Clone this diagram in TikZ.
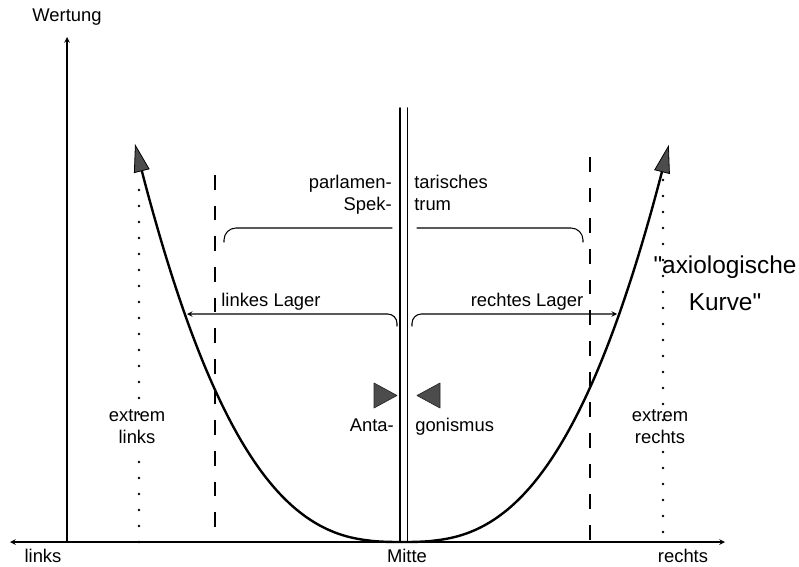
\documentclass[tikz,border=0pt]{standalone}
\usepackage{fontspec}
\setmainfont{Liberation Sans}
\usetikzlibrary{arrows.meta}
\begin{document}
\begin{tikzpicture}[x=0.75pt,y=-0.75pt,>=stealth,line join=round,line cap=round]
			\tikzset{txt/.style={font=\fontsize{13.8}{16.5}\selectfont,inner sep=0pt,text height=1.6ex,text depth=0.4ex},
				bigtxt/.style={font=\fontsize{18.3}{27.5}\selectfont,align=center,inner sep=0pt},
				strich/.style={line width=0.8pt,line cap=butt,dash pattern=on 11pt off 12pt},
				punkte/.style={line width=2pt,dash pattern=on 0pt off 12pt},
				keil/.style={fill=black!70,draw=black!85,line width=0.5pt},
				kurve/.style={line width=1.8pt,{Triangle[length=21pt,width=12pt,line width=0.6pt,fill=black!70]}-{Triangle[length=21pt,width=12pt,line width=0.6pt,fill=black!70]}}}
			%%Abmessungen in Pixeln
			\def \mx{402}
			\def \ay{542}
			\def \ax{67}
			\def \breite{267}
			\def \hoehe{398}
			\useasboundingbox (0,0) rectangle (799,567);
			%%Achsen
			\draw[<->,line width=0.9pt] (10,\ay)--(725,\ay);
			\draw[->,line width=0.9pt] (\ax,\ay)--(\ax,37);
			%%Grenzlinien
			\draw[strich] (215,175)--(215,\ay) (590,157)--(590,\ay);
			\draw[punkte] (139,190)--(139,\ay) (663,180)--(663,\ay);
			\draw[line width=1.2pt] (400,108)--(400,\ay) (407.5,108)--(407.5,\ay);
			%%Kurve
			\draw[kurve] plot[samples=120,domain=-1:1,smooth,variable=\t] ({\mx+\breite*\t},{\ay-\hoehe*abs(\t)^2.7});
			%%Klammern
			\draw[line width=0.8pt,rounded corners=9pt] (224,242) |- (392,228);
			\draw[line width=0.8pt,rounded corners=9pt] (417,228) -| (583,242);
			\draw[->,line width=0.8pt,rounded corners=7pt] (397,326) |- (187,314);
			\draw[->,line width=0.8pt,rounded corners=7pt] (412,326) |- (617,314);
			\filldraw[keil] (374,383)--(397,395.5)--(374,408)--cycle;
			\filldraw[keil] (440,383)--(417,395.5)--(440,408)--cycle;
			%%Beschriftung
			\path
			(\ax,17) node[txt] (wertung) {Wertung}
			(43,558) node[txt] (links) {links}
			(407,558) node[txt] (mitte) {Mitte}
			(683,558) node[txt] (rechts) {rechts}
			(271,302) node[txt] (llager) {linkes Lager}
			(527,302) node[txt] (rlager) {rechtes Lager}
			(394,427) node[txt,anchor=east] (anta) {Anta-}
			(415,427) node[txt,anchor=west] (gonis) {gonismus}
			;
			\node[txt,anchor=east,align=right] (parlam) at (392,206) {parlamen-\\Spek-};
			\node[txt,anchor=west,align=left] (tarisch) at (414,206) {tarisches\\trum};
			\node[txt,align=center,fill=white,inner sep=3pt] (exlinks) at (137,439) {extrem\\links};
			\node[txt,align=center,fill=white,inner sep=3pt] (exrechts) at (660,439) {extrem\\rechts};
			\node[bigtxt] (axio) at (725,283) {\textquotedbl axiologische\\Kurve\textquotedbl};
	\end{tikzpicture}
\end{document}
